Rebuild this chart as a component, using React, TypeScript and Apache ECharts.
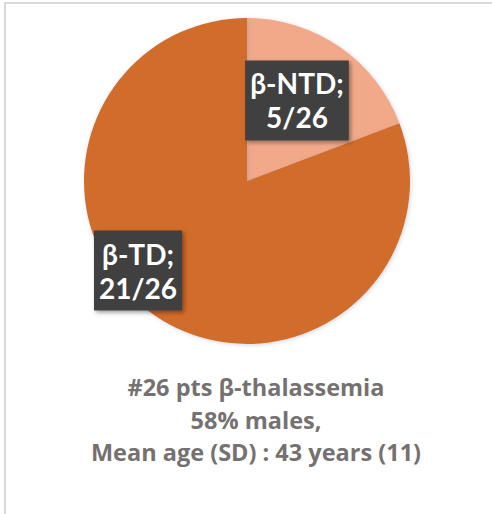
import React, { useEffect, useRef } from "react";
import * as echarts from "echarts";

const categories = ["β-NTD", "β-TD"];
const counts = [5, 21];
const total = 26;
const colors = ["#F2A98A", "#D26C2A"];
const footerLines = [
  "#26 pts β-thalassemia",
  "58% males,",
  "Mean age (SD) : 43 years (11)",
];

export default function App() {
  const ref = useRef<HTMLDivElement>(null);
  useEffect(() => {
    if (!ref.current) return;
    const chart = echarts.init(ref.current, undefined, { renderer: "svg" });
    const labelOffsets: [number, number][] = [
      [2, -11],
      [-61, 20],
    ];
    chart.setOption({
      animation: false,
      backgroundColor: "#ffffff",
      graphic: [
        {
          type: "rect",
          shape: { x: 5, y: 3, width: 500, height: 520 },
          style: { fill: "none", stroke: "#D9D9D9", lineWidth: 2 },
          silent: true,
        },
        {
          type: "text",
          x: 256,
          y: 371,
          silent: true,
          style: {
            text: footerLines.join("\n"),
            fontFamily: "Open Sans",
            fontWeight: "bold",
            fontSize: 23.5,
            lineHeight: 32.5,
            fill: "#767171",
            align: "center",
            verticalAlign: "top",
          },
        },
      ],
      series: [
        {
          type: "pie",
          center: [247, 181],
          radius: [0, 163],
          startAngle: 90,
          clockwise: true,
          silent: true,
          itemStyle: {
            shadowBlur: 4,
            shadowColor: "rgba(120,140,160,0.35)",
            shadowOffsetX: 1,
            shadowOffsetY: 1,
          },
          data: categories.map((c, i) => ({
            name: c,
            value: counts[i],
            itemStyle: { color: colors[i] },
            label: { offset: labelOffsets[i] },
          })),
          label: {
            show: true,
            position: "inside",
            formatter: (p: any) => `${p.name};\n${p.value}/${total}`,
            fontFamily: "Lato",
            fontWeight: "bold",
            fontSize: 28,
            lineHeight: 34,
            color: "#ffffff",
            backgroundColor: "#404040",
            padding: [6, 5, 6, 5],
            shadowBlur: 4,
            shadowColor: "rgba(0,0,0,0.4)",
            shadowOffsetX: 2,
            shadowOffsetY: 2,
            align: "center",
          },
          labelLine: { show: false },
        },
      ],
    });
    return () => chart.dispose();
  }, []);
  return (
    <div
      ref={ref}
      style={{ position: "fixed", left: 0, top: 0, width: 492, height: 514 }}
    />
  );
}
